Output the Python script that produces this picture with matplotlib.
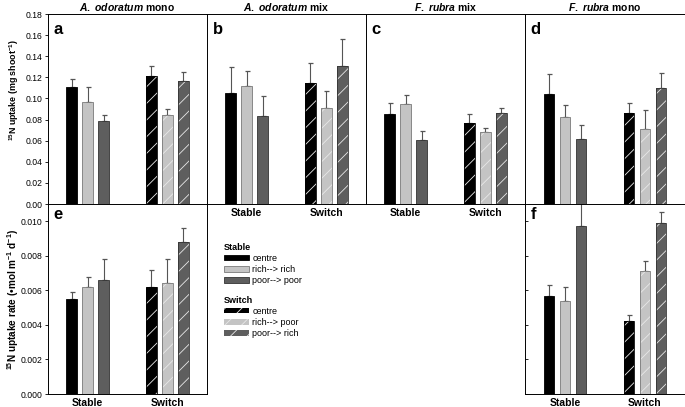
"""15N uptake per shoot (a-d) and uptake rate (e-f), stable vs switch patches."""

import matplotlib
matplotlib.use("Agg")
import matplotlib.pyplot as plt
from matplotlib.patches import Patch

plt.rcParams["font.family"] = ["Liberation Sans", "DejaVu Sans"]
plt.rcParams["mathtext.fontset"] = "custom"
plt.rcParams["mathtext.it"] = "Liberation Sans:italic:bold"
plt.rcParams["mathtext.bf"] = "Liberation Sans:bold"
plt.rcParams["mathtext.rm"] = "Liberation Sans:bold"
plt.rcParams["hatch.linewidth"] = 0.6

groups = ["Stable", "Switch"]
treatments = ["centre", "rich", "poor"]
stable_labels = ["centre", "rich--> rich", "poor--> poor"]
switch_labels = ["centre", "rich--> poor", "poor--> rich"]

# values: [stable centre, rich, poor], [switch centre, rich, poor]
a_mean = [[0.111, 0.097, 0.079], [0.121, 0.084, 0.117]]
a_top = [[0.118, 0.111, 0.084], [0.131, 0.090, 0.125]]
b_mean = [[0.105, 0.112, 0.083], [0.115, 0.091, 0.131]]
b_top = [[0.130, 0.126, 0.102], [0.134, 0.107, 0.156]]
c_mean = [[0.085, 0.095, 0.061], [0.077, 0.068, 0.086]]
c_top = [[0.096, 0.103, 0.069], [0.085, 0.072, 0.091]]
d_mean = [[0.104, 0.082, 0.062], [0.086, 0.071, 0.110]]
d_top = [[0.123, 0.094, 0.075], [0.096, 0.089, 0.124]]
e_mean = [[0.0055, 0.0062, 0.0066], [0.0062, 0.0064, 0.0088]]
e_top = [[0.0059, 0.0068, 0.0078], [0.0072, 0.0078, 0.0096]]
f_mean = [[0.00565, 0.0054, 0.00975], [0.0042, 0.0071, 0.0099]]
f_top = [[0.0063, 0.0062, 0.0118], [0.0046, 0.0077, 0.01055]]

titles = [r"$\mathit{A.\ odoratum}$ mono", r"$\mathit{A.\ odoratum}$ mix",
          r"$\mathit{F.\ rubra}$ mix", r"$\mathit{F.\ rubra}$ mono"]

FILL = {"centre": "#000000", "rich": "#c4c4c4", "poor": "#5e5e5e"}
EDGE = {"centre": "#000000", "rich": "#7a7a7a", "poor": "#333333"}

W, H = 685, 407
fig = plt.figure(figsize=(W / 100, H / 100), dpi=100)


def frac(x0, y0, x1, y1):
    return [x0 / W, 1 - y1 / H, (x1 - x0) / W, (y1 - y0) / H]


def draw_panel(ax, means, tops, ylim):
    width = 0.135
    offsets = [-0.2, 0.0, 0.2]
    for g, (gm, gt) in enumerate(zip(means, tops)):
        for k, tr in enumerate(treatments):
            x = g + 1 + offsets[k]
            m, t = gm[k], gt[k]
            if g == 0:
                ax.bar(x, m, width, color=FILL[tr], edgecolor=EDGE[tr], linewidth=0.6, zorder=2)
            else:
                ax.bar(x, m, width, color=FILL[tr], edgecolor="#e8e8e8", hatch="//",
                       linewidth=0, zorder=2)
                ax.bar(x, m, width, fill=False, edgecolor=EDGE[tr], linewidth=0.6, zorder=3)
            ax.errorbar(x, m, yerr=[[0], [t - m]], fmt="none", ecolor="#555555",
                        elinewidth=0.8, capsize=1.8, capthick=0.9, zorder=1)
    ax.set_xlim(0.5, 2.5)
    ax.set_ylim(*ylim)
    ax.set_xticks([1, 2])
    ax.set_xticklabels(groups, fontsize=7.5, fontweight="bold")
    ax.tick_params(axis="x", length=0, pad=3)
    ax.tick_params(axis="y", labelsize=6.2, length=2.5, width=0.6, pad=1.5)
    for s in ax.spines.values():
        s.set_linewidth(0.7)


top_boxes = [(48, 207), (207, 366), (366, 525), (525, 685)]
top_data = [(a_mean, a_top), (b_mean, b_top), (c_mean, c_top), (d_mean, d_top)]
letters = ["a", "b", "c", "d"]
for i, ((x0, x1), (m, t)) in enumerate(zip(top_boxes, top_data)):
    ax = fig.add_axes(frac(x0, 14, x1, 204))
    draw_panel(ax, m, t, (0, 0.18))
    ax.set_yticks([j * 0.02 for j in range(10)])
    if i == 0:
        ax.yaxis.set_major_formatter(plt.FuncFormatter(lambda v, _: f"{v:.2f}"))
        ax.set_ylabel(r"$^{15}$N uptake (mg shoot$^{-1}$)", fontsize=6.4, fontweight="bold")
        ax.yaxis.set_label_coords(-0.17, 0.6)
    else:
        ax.tick_params(axis="y", length=0, labelleft=False)
    if i in (0, 3):
        ax.tick_params(axis="x", labelbottom=False)
    ax.text(0.035, 0.96, letters[i], transform=ax.transAxes, fontsize=12,
            fontweight="bold", va="top", ha="left")
    ax.set_title(titles[i], fontsize=7.5, fontweight="bold", pad=2)

bottom_boxes = [(48, 207), (525, 685)]
bottom_data = [(e_mean, e_top), (f_mean, f_top)]
for i, ((x0, x1), (m, t)) in enumerate(zip(bottom_boxes, bottom_data)):
    ax = fig.add_axes(frac(x0, 204, x1, 394))
    draw_panel(ax, m, t, (0, 0.011))
    ax.set_yticks([j * 0.002 for j in range(6)])
    if i == 0:
        ax.yaxis.set_major_formatter(plt.FuncFormatter(lambda v, _: f"{v:.3f}"))
        ax.set_ylabel(r"$^{15}$N uptake rate (•mol m$^{-1}$ d$^{-1}$)", fontsize=7.2,
                      fontweight="bold")
        ax.yaxis.set_label_coords(-0.17, 0.5)
    else:
        ax.tick_params(axis="y", labelleft=False, direction="in", length=2)
    ax.text(0.035, 0.985, "ef"[i], transform=ax.transAxes, fontsize=12,
            fontweight="bold", va="top", ha="left")

# legends
stable_handles = [Patch(facecolor=FILL[t], edgecolor=EDGE[t], linewidth=0.6) for t in treatments]
switch_handles = [Patch(facecolor=FILL[t], edgecolor="#e8e8e8", hatch="//", linewidth=0)
                  for t in treatments]
common = dict(frameon=False, fontsize=6.5, alignment="left", handlelength=2.8,
              handleheight=0.55, handletextpad=0.4, labelspacing=0.25, borderpad=0,
              title_fontproperties={"weight": "bold", "size": 6.5}, loc="upper left")
fig.legend(stable_handles, stable_labels, title="Stable",
           bbox_to_anchor=(219 / W, 1 - 238 / H), **common)
fig.legend(switch_handles, switch_labels, title="Switch",
           bbox_to_anchor=(219 / W, 1 - 291 / H), **common)

fig.savefig("out.png", dpi=100)
